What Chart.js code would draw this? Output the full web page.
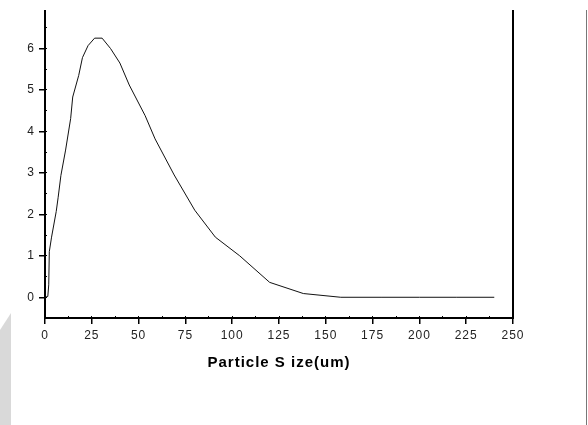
<!DOCTYPE html>
<html>
<head>
<meta charset="utf-8">
<script src="https://cdn.jsdelivr.net/npm/chart.js@4/dist/chart.umd.min.js"></script>
<style>
    body { margin: 0; background: #fff; }
    #wrap { position: relative; width: 588px; height: 425px; }
    #strip { position: absolute; left: 0; top: 313px; width: 11px; height: 112px; background: #d9d9d9;
             clip-path: polygon(0 17px, 11px 0, 11px 112px, 0 112px); }
    #edge { position: absolute; left: 586px; top: 10px; width: 1px; height: 415px; background: #777; }
</style>
</head>
<body>
<div id="wrap">
    <canvas id="myChart" width="588" height="425"></canvas>
    <div id="strip"></div>
    <div id="edge"></div>
</div>
<script>
// particle size (um) and distribution values
const sizes = [0, 1.5, 2, 2.3, 3.5, 6, 7, 8.5, 11, 13.7, 14.8, 18, 20, 23, 26.5, 30.5, 35, 40, 45, 53.5, 58.8, 69, 80, 91, 104, 120, 138, 158, 180, 200, 220, 240];
const density = [0, 0.02, 0.3, 1.1, 1.45, 2.07, 2.4, 2.94, 3.55, 4.31, 4.83, 5.35, 5.78, 6.07, 6.25, 6.25, 6.0, 5.65, 5.12, 4.38, 3.82, 2.95, 2.1, 1.45, 1.0, 0.36, 0.09, 0, 0, 0, 0, 0];

const xRange = [0, 250];
const yRange = [-0.5, 6.9];
const xTitle = "Particle S ize(um)";

const points = sizes.map((s, i) => ({ x: s, y: density[i] }));

const spacing = {
    id: "spacing",
    beforeDraw(chart) {
        chart.ctx.letterSpacing = "1px";
    }
};

const tickFont = { family: "'Liberation Sans', Arial, sans-serif", size: 12 };

const ctx = document.getElementById("myChart").getContext("2d");

new Chart(ctx, {
    type: "scatter",
    data: {
        datasets: [{
            data: points,
            showLine: true,
            borderColor: "#111",
            borderWidth: 1,
            pointRadius: 0,
            tension: 0,
            xAxisID: "x",
            yAxisID: "y"
        }]
    },
    plugins: [spacing],
    options: {
        responsive: false,
        animation: false,
        layout: { padding: { top: 10, right: 75, bottom: 0, left: 0 } },
        plugins: { legend: { display: false }, tooltip: { enabled: false } },
        scales: {
            x: {
                type: "linear",
                position: "bottom",
                min: xRange[0],
                max: xRange[1],
                afterFit: s => { s.height = 107; },
                ticks: { stepSize: 25, color: "#222", font: tickFont, padding: 4, maxRotation: 0 },
                grid: { drawOnChartArea: false, tickLength: 6, color: "#000", lineWidth: 1.5 },
                border: { color: "#000", width: 2 },
                title: {
                    display: true,
                    text: xTitle,
                    color: "#000",
                    font: { family: "'Liberation Sans', Arial, sans-serif", size: 15, weight: "bold" },
                    padding: { top: 0, bottom: 53 }
                }
            },
            y: {
                type: "linear",
                position: "left",
                min: yRange[0],
                max: yRange[1],
                afterFit: s => { s.width = 45; },
                ticks: { stepSize: 1, includeBounds: false, color: "#222", font: tickFont, padding: 4 },
                grid: { drawOnChartArea: false, tickLength: 6, color: "#000", lineWidth: 1.5 },
                border: { color: "#000", width: 2 }
            },
            yMinor: {
                axis: "y",
                type: "linear",
                position: { x: 0 },
                min: yRange[0],
                max: yRange[1],
                ticks: { display: false, stepSize: 0.5, includeBounds: false },
                grid: { drawOnChartArea: false, tickLength: -2, color: "#000", lineWidth: 1 },
                border: { display: false }
            },
            yRight: {
                axis: "y",
                type: "linear",
                position: { x: 250 },
                min: yRange[0],
                max: yRange[1],
                ticks: { display: false, stepSize: 0.5, includeBounds: false },
                grid: { drawOnChartArea: false, tickLength: -2, color: "#000", lineWidth: 1 },
                border: { color: "#000", width: 2 }
            },
            xMinor: {
                axis: "x",
                type: "linear",
                position: { y: -0.5 },
                min: xRange[0],
                max: xRange[1],
                ticks: { display: false, stepSize: 12.5, includeBounds: false },
                grid: { drawOnChartArea: false, tickLength: -2, color: "#000", lineWidth: 1 },
                border: { display: false }
            }
        }
    }
});
</script>
</body>
</html>
